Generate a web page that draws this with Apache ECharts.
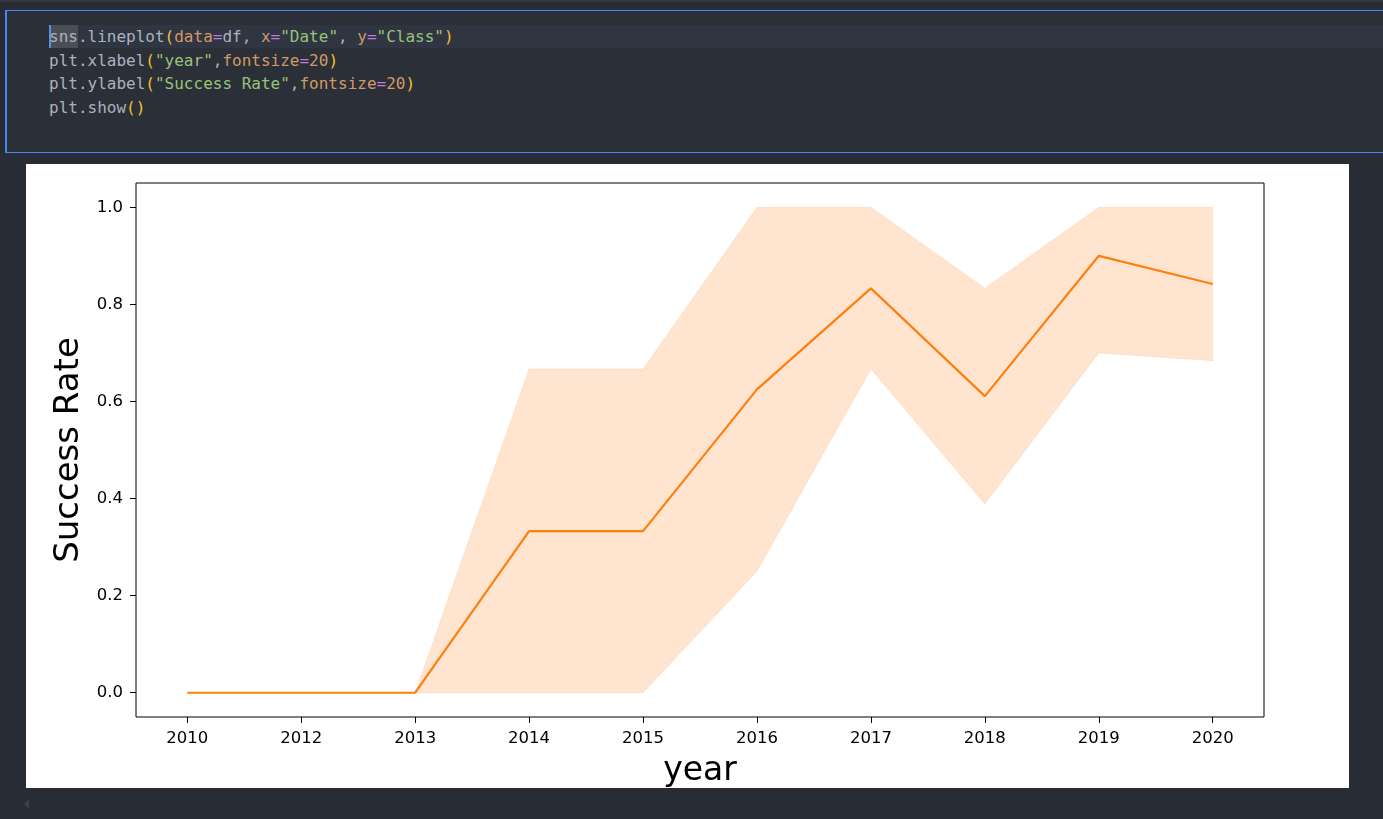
<!DOCTYPE html>
<html>
<head>
<meta charset="utf-8">
<script src="https://cdn.jsdelivr.net/npm/echarts@6/dist/echarts.min.js"></script>
<style>
  html, body { margin: 0; padding: 0; width: 1383px; height: 819px; overflow: hidden; background: #282c34; }
  #topstrip { position: absolute; left: 0; top: 0; width: 1383px; height: 2px; background: #33373f; }
  #cell { position: absolute; left: 5px; top: 10px; width: 1390px; height: 141px; background: #2b2f37;
          border: 1px solid #4a86f0; border-left-width: 2px; }
  #hl { position: absolute; left: 49px; top: 25px; width: 1334px; height: 23px; background: #2f3541; }
  #sel { position: absolute; left: 49px; top: 25px; width: 29px; height: 23px; background: #4a4e57; }
  #cursor { position: absolute; left: 49px; top: 25px; width: 2px; height: 23px; background: #5b8fe8; }
  pre { position: absolute; left: 49px; top: 25px; margin: 0; font-family: "DejaVu Sans Mono", monospace;
        font-size: 16px; line-height: 23.7px; color: #abb2bf; }
  .b { color: #f2c12e; } .k { color: #d19a66; } .o { color: #c678dd; } .s { color: #98c379; } .n { color: #d19a66; }
  #chart { position: absolute; left: 26px; top: 164px; width: 1323px; height: 624px; background: #ffffff; }
  #arrow { position: absolute; left: 24px; top: 799px; width: 0; height: 0;
           border-top: 5px solid transparent; border-bottom: 5px solid transparent; border-right: 5px solid #3b3f49; }
</style>
</head>
<body>
<div id="topstrip"></div>
<div id="cell"></div>
<div id="hl"></div>
<div id="sel"></div>
<div id="cursor"></div>
<pre>sns.lineplot<span class="b">(</span><span class="k">data</span><span class="o">=</span>df, <span class="k">x</span><span class="o">=</span><span class="s">"Date"</span>, <span class="k">y</span><span class="o">=</span><span class="s">"Class"</span><span class="b">)</span>
plt.xlabel<span class="b">(</span><span class="s">"year"</span>,<span class="k">fontsize</span><span class="o">=</span><span class="n">20</span><span class="b">)</span>
plt.ylabel<span class="b">(</span><span class="s">"Success Rate"</span>,<span class="k">fontsize</span><span class="o">=</span><span class="n">20</span><span class="b">)</span>
plt.show<span class="b">()</span></pre>
<div id="chart"></div>
<div id="arrow"></div>
<script>
// ---- data ----
var categories = ["2010", "2012", "2013", "2014", "2015", "2016", "2017", "2018", "2019", "2020"];
var meanRate   = [0, 0, 0, 0.333, 0.333, 0.625, 0.833, 0.611, 0.9, 0.842];
var upperCI    = [0, 0, 0, 0.667, 0.667, 1.0, 1.0, 0.833, 1.0, 1.0];
var lowerCI    = [0, 0, 0, 0, 0, 0.25, 0.667, 0.389, 0.7, 0.684];
var yTicks     = [0, 0.2, 0.4, 0.6, 0.8, 1.0];
var xLabelText = "year";
var yLabelText = "Success Rate";

var xTickIdx = categories.map(function (c, i) { return i; });

var chart = echarts.init(document.getElementById('chart'), null, { renderer: 'canvas' });
var font = "DejaVu Sans";

var option = {
  animation: false,
  backgroundColor: '#ffffff',
  grid: { left: 110, top: 19, right: 85, bottom: 71, outerBoundsMode: 'none', containLabel: false,
          show: true, borderColor: '#000000', borderWidth: 1, backgroundColor: 'transparent' },
  xAxis: {
    type: 'value', min: -0.45, max: 9.45,
    name: xLabelText, nameLocation: 'middle', nameGap: 38,
    nameTextStyle: { fontFamily: font, fontSize: 33, color: '#000' },
    axisLine: { show: false, onZero: false },
    axisTick: { show: true, customValues: xTickIdx, length: 6, lineStyle: { color: '#000', width: 1 } },
    axisLabel: { customValues: xTickIdx, margin: 13, fontFamily: font, fontSize: 16.5, color: '#000',
                 formatter: function (v) { return categories[Math.round(v)]; } },
    splitLine: { show: false }
  },
  yAxis: {
    type: 'value', min: -0.05, max: 1.05,
    name: yLabelText, nameLocation: 'middle', nameGap: 46, nameRotate: 90,
    nameTextStyle: { fontFamily: font, fontSize: 34, color: '#000' },
    axisLine: { show: false, onZero: false },
    axisTick: { show: true, customValues: yTicks, length: 6, lineStyle: { color: '#000', width: 1 } },
    axisLabel: { customValues: yTicks, margin: 13, fontFamily: font, fontSize: 16.5, color: '#000',
                 formatter: function (v) { return v.toFixed(1); } },
    splitLine: { show: false }
  },
  series: [
    {
      type: 'custom',
      data: [[0, 0]],
      encode: { x: 0, y: 1 },
      silent: true,
      z: 1,
      renderItem: function (params, api) {
        var pts = [];
        for (var i = 0; i < categories.length; i++) pts.push(api.coord([i, upperCI[i]]));
        for (var j = categories.length - 1; j >= 0; j--) pts.push(api.coord([j, lowerCI[j]]));
        return {
          type: 'polygon',
          shape: { points: pts },
          style: { fill: 'rgba(255,127,14,0.2)', stroke: 'rgba(255,127,14,0.12)', lineWidth: 1 }
        };
      }
    },
    {
      type: 'line',
      data: categories.map(function (c, i) { return [i, meanRate[i]]; }),
      symbol: 'none',
      z: 3,
      lineStyle: { color: '#ff7f0e', width: 2.2 }
    }
  ]
};
chart.setOption(option);
</script>
</body>
</html>
